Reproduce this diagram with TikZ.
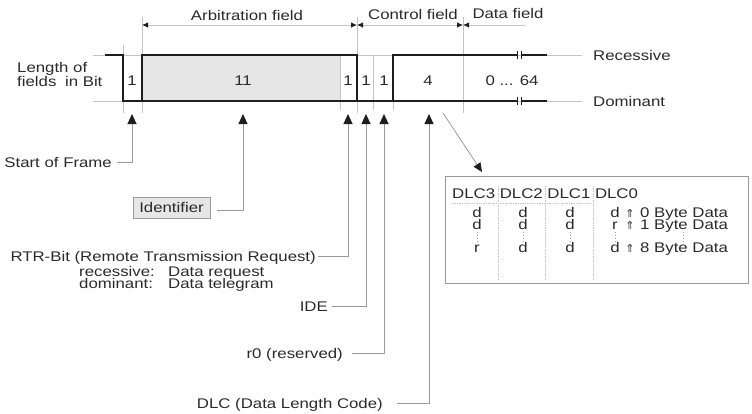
\documentclass[tikz,border=0pt]{standalone}
\usepackage{fontspec}
\setmainfont[FakeStretch=1.2]{Liberation Sans}
\newfontfamily\symfont{DejaVu Sans}
\usetikzlibrary{arrows.meta}
\definecolor{txt}{HTML}{2A2A2A}
\definecolor{sig}{HTML}{1E1E1E}
\definecolor{guide}{HTML}{C4C4C4}
\definecolor{lead}{HTML}{9A9A9A}
\definecolor{boxfill}{HTML}{E6E6E6}
\begin{document}
\setlength{\lineskiplimit}{-20bp}
\begin{tikzpicture}[x=1bp,y=-1bp,
  every node/.style={inner sep=0pt, text=txt, font=\fontsize{14bp}{16bp}\selectfont, text height=10bp, text depth=0pt},
  multiline/.style={text height={}, text depth={}, font=\fontsize{14bp}{12bp}\selectfont},
  sigline/.style={draw=sig, line width=2bp, line join=miter},
  guideline/.style={draw=guide, line width=0.8bp},
  ptr/.style={draw=lead, line width=0.9bp, {Triangle[length=10bp,width=9bp,color=sig]}-},
  dimline/.style={draw=guide, line width=0.8bp},
  dimtip/.style={{Latex[length=6bp,width=5.5bp,color=sig]}-{Latex[length=6bp,width=5.5bp,color=sig]}},
  tabsep/.style={draw=guide, line width=0.7bp, densely dotted},
  brk/.style={draw=sig, line width=1.3bp},
  arr/.style={text height={}, text depth={}, font=\symfont\fontsize{11bp}{12bp}\selectfont}
]
\useasboundingbox (0,0) rectangle (752,413);

% fill of the arbitration field
\fill[boxfill] (142,55) rectangle (340,101);

% reference levels
\draw[guideline] (93,55) -- (582,55);
\draw[guideline] (93,101) -- (582,101);

% guide verticals
\draw[guideline] (142,17) -- (142,113);
\draw[guideline] (357,17) -- (357,113);
\draw[guideline] (463,17) -- (463,113);
\draw[guideline] (123,45) -- (123,113);
\draw[guideline] (340,55) -- (340,110);
\draw[guideline] (373,55) -- (373,110);
\draw[guideline] (393,101) -- (393,110);

% signal
\draw[sigline] (105,55) -- (123,55) -- (123,101) -- (517,101);
\draw[sigline] (142,101) -- (142,55) -- (357,55) -- (357,101);
\draw[sigline] (393,101) -- (393,55) -- (517,55);
\draw[sigline] (522,55) -- (547,55);
\draw[sigline] (522,101) -- (547,101);
\draw[brk] (517.5,51) -- (517.5,59);
\draw[brk] (521.5,51) -- (521.5,59);
\draw[brk] (517.5,97) -- (517.5,105);
\draw[brk] (521.5,97) -- (521.5,105);

% field dimension lines
\draw[dimline, dimtip] (142,25) -- (357,25);
\draw[dimline, dimtip] (357,25) -- (463,25);
\draw[dimline, {Latex[length=6bp,width=5.5bp,color=sig]}-] (463,25) -- (525,25);
\node (arb) at (247,15) {Arbitration field};
\node (ctl) at (413,14) {Control field};
\node (dat) at (508,13) {Data field};

% bit counts
\node (b1) at (132,80) {1};
\node (b11) at (243,80) {11};
\node (b1r) at (348,80) {1};
\node (b1i) at (366,80) {1};
\node (b1z) at (384,80) {1};
\node (b4) at (428,80) {4};
\node (b64) at (512,80) {0 ... 64};

\node[anchor=west] (len1) at (17,67) {Length of};
\node[anchor=west] (len2) at (17,81) {fields\hspace{4bp} in Bit};
\node[anchor=west] (rec) at (593,55) {Recessive};
\node[anchor=west] (dom) at (593,101) {Dominant};

% labels below
\node[anchor=east, inner xsep=5bp] (sof) at (117,162) {Start of Frame};
\node[draw=lead, fill=boxfill, line width=0.8bp, minimum width=77bp, minimum height=21bp] (ident) at (171.5,207.5) {Identifier};
\node[anchor=east, inner xsep=2bp] (rtr) at (318,256) {RTR-Bit (Remote Transmission Request)};
\node[multiline, anchor=north west, align=left] (rtrsub) at (79,266)
  {\makebox[89bp][l]{recessive:}Data request\\\makebox[89bp][l]{dominant:}Data telegram};
\node[anchor=east, inner xsep=4bp] (ide) at (332,306) {IDE};
\node[anchor=east, inner xsep=9bp] (rzero) at (352,353) {r0 (reserved)};
\node[anchor=east, inner xsep=14bp] (dlc) at (397,403) {DLC (Data Length Code)};

\coordinate (p1) at (132,114);
\coordinate (p2) at (243,114);
\coordinate (p3) at (348,114);
\coordinate (p4) at (366,114);
\coordinate (p5) at (384,114);
\coordinate (p6) at (429,114);
\draw[ptr] (p1) |- (sof.east);
\draw[ptr] (p2) |- ([xshift=7bp,yshift=-2.5bp]ident.east);
\draw[ptr] (p3) |- (rtr.east);
\draw[ptr] (p4) |- (ide.east);
\draw[ptr] (p5) |- (rzero.east);
\draw[ptr] (p6) |- (dlc.east);

% DLC table
\node[draw=lead, line width=0.8bp, anchor=north west, minimum width=303bp, minimum height=107bp] (dlcbox) at (445,176) {};
\coordinate (dlcsrc) at (443,113);
\draw[draw=lead, line width=0.8bp, -{Triangle[length=9bp,width=8bp,color=sig]}] (dlcsrc) -- ([xshift=37bp,yshift=4bp]dlcbox.north west);

\node[anchor=west] (hdr) at (452,193) {DLC3 DLC2 DLC1 DLC0};
\draw[tabsep] (452,203) -- (593,203);
\draw[tabsep] (498,186) -- (498,280);
\draw[tabsep] (545,186) -- (545,280);
\draw[tabsep] (593,186) -- (593,280);

\node[multiline, anchor=north, align=center] (col3) at (477,207.5) {d\\d\\[11bp]r};
\node[multiline, anchor=north, align=center] (col2) at (523,207.5) {d\\d\\[11bp]d};
\node[multiline, anchor=north, align=center] (col1) at (570,207.5) {d\\d\\[11bp]d};
\node[multiline, anchor=north, align=center] (col0) at (615,207.5) {d\\r\\[11bp]d};
\node[multiline, anchor=north west, align=left] (bytes) at (640,208) {0 Byte Data\\1 Byte Data\\[11bp]8 Byte Data};

\node[arr] (e1) at (630,213) {⇑};
\node[arr] (e2) at (630,225) {⇑};
\node[arr] (e3) at (630,248) {⇑};

\foreach \xx in {477,523,570,615,683}{
  \draw[draw=lead, line width=1bp, dash pattern=on 1bp off 2bp] (\xx,232) -- (\xx,242);
}
\end{tikzpicture}
\end{document}
